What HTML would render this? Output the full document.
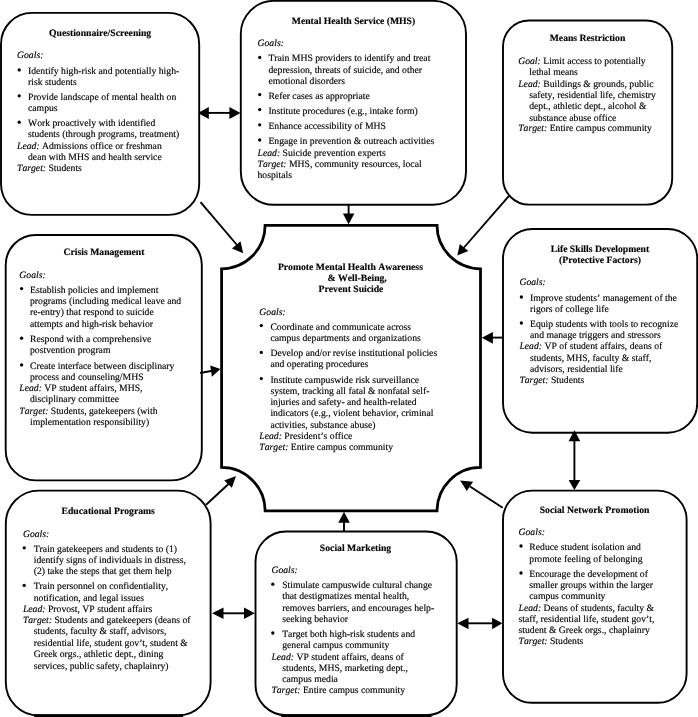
<!DOCTYPE html>
<html><head><meta charset="utf-8"><style>
html,body{margin:0;padding:0;background:#fff;width:698px;height:717px;overflow:hidden}
svg{display:block;will-change:transform}
text{font-family:"Liberation Serif",serif;font-size:9.7px;fill:#000;stroke:#000;stroke-width:0.15px;text-rendering:geometricPrecision;font-kerning:none}
</style></head><body>
<svg width="698" height="717" viewBox="0 0 698 717">
<rect x="1.0" y="12.9" width="198.20" height="202.00" rx="31" ry="31" fill="none" stroke="#000" stroke-width="1.9"/>
<rect x="240.8" y="0.9" width="225.20" height="203.90" rx="33" ry="33" fill="none" stroke="#000" stroke-width="1.9"/>
<rect x="503.0" y="20.5" width="169.20" height="184.10" rx="26" ry="26" fill="none" stroke="#000" stroke-width="1.9"/>
<rect x="5.7" y="235.0" width="196.10" height="245.40" rx="30" ry="30" fill="none" stroke="#000" stroke-width="1.9"/>
<rect x="503.0" y="229.0" width="194.20" height="203.70" rx="29.5" ry="29.5" fill="none" stroke="#000" stroke-width="1.9"/>
<rect x="5.8" y="490.6" width="204.80" height="224.90" rx="33" ry="33" fill="none" stroke="#000" stroke-width="1.9"/>
<rect x="255.5" y="531.5" width="201.20" height="183.70" rx="30.5" ry="30.5" fill="none" stroke="#000" stroke-width="1.9"/>
<rect x="503.0" y="490.6" width="183.60" height="212.20" rx="29" ry="29" fill="none" stroke="#000" stroke-width="1.9"/>
<path d="M265.1,225.3 L437.0,225.3 A43.5,43.5 0 0 0 480.5,268.8 L480.5,467.4 A43.5,43.5 0 0 0 437.0,510.9 L265.1,510.9 A43.5,43.5 0 0 0 221.6,467.4 L221.6,268.8 A43.5,43.5 0 0 0 265.1,225.3 Z" fill="none" stroke="#000" stroke-width="2.8"/>
<rect x="34" y="714.2" width="149" height="3" fill="#000"/>
<rect x="281" y="714.2" width="150.5" height="3" fill="#000"/>
<line x1="208" y1="112.9" x2="230" y2="112.9" stroke="#000" stroke-width="1.9"/>
<polygon points="197.9,112.9 208.8,107.0 208.8,118.9" fill="#000"/>
<polygon points="240.5,112.9 229.4,107.0 229.4,118.9" fill="#000"/>
<line x1="348.6" y1="204.8" x2="348.6" y2="214" stroke="#000" stroke-width="1.9"/>
<polygon points="348.6,224.2 342.9,213.4 354.4,213.4" fill="#000"/>
<line x1="200.5" y1="202.2" x2="237" y2="245" stroke="#000" stroke-width="1.9"/>
<polygon points="243.2,253.2 232,248.5 240.5,241.2" fill="#000"/>
<line x1="509" y1="195.9" x2="464" y2="247.5" stroke="#000" stroke-width="1.9"/>
<polygon points="457.3,255.4 459.8,244.1 468.3,251" fill="#000"/>
<line x1="200.2" y1="373" x2="211" y2="371" stroke="#000" stroke-width="1.9"/>
<polygon points="220.4,369 210.2,365.6 211.9,376.8" fill="#000"/>
<line x1="492" y1="337.6" x2="503" y2="337.6" stroke="#000" stroke-width="1.9"/>
<polygon points="481.8,337.8 492.9,332.0 492.9,343.7" fill="#000"/>
<line x1="206.1" y1="504.8" x2="228.5" y2="484" stroke="#000" stroke-width="1.9"/>
<polygon points="236,476.1 224.2,480.4 231.9,487.8" fill="#000"/>
<line x1="502.7" y1="507.7" x2="470" y2="486.5" stroke="#000" stroke-width="1.9"/>
<polygon points="460.1,480.6 473.1,481.8 466.8,490.9" fill="#000"/>
<line x1="344" y1="531.5" x2="344" y2="522" stroke="#000" stroke-width="1.9"/>
<polygon points="344,511.8 338.3,522.8 349.8,522.8" fill="#000"/>
<line x1="223" y1="613.3" x2="244.5" y2="613.3" stroke="#000" stroke-width="1.9"/>
<polygon points="212.1,613.3 223.5,607.6 223.5,619" fill="#000"/>
<polygon points="254.8,613.3 244,607.6 244,619" fill="#000"/>
<line x1="468" y1="623.3" x2="492.5" y2="623.3" stroke="#000" stroke-width="1.9"/>
<polygon points="457.3,623.3 468.5,617.8 468.5,629.2" fill="#000"/>
<polygon points="502.4,623.3 492.1,617.8 492.1,629.2" fill="#000"/>
<line x1="574.4" y1="441" x2="574.4" y2="480" stroke="#000" stroke-width="1.9"/>
<polygon points="574.4,430.2 568.6,441.2 580.3,441.2" fill="#000"/>
<polygon points="574.4,489.9 568.6,479.9 580.3,479.9" fill="#000"/>
<text x="100.1" y="36.0" text-anchor="middle" font-weight="bold">Questionnaire/Screening</text>
<text x="17.0" y="57.5"><tspan font-style="italic">Goals:</tspan></text>
<circle cx="19.2" cy="69.89999999999999" r="1.65" fill="#000"/>
<text x="28.0" y="73.8">Identify high-risk and potentially high-</text>
<text x="28.0" y="85.0">risk students</text>
<circle cx="19.2" cy="95.8" r="1.65" fill="#000"/>
<text x="28.0" y="99.7">Provide landscape of mental health on</text>
<text x="28.0" y="110.7">campus</text>
<circle cx="19.2" cy="122.19999999999999" r="1.65" fill="#000"/>
<text x="28.0" y="126.1">Work proactively with identified</text>
<text x="28.0" y="136.8">students (through programs, treatment)</text>
<text x="17.0" y="148.5"><tspan font-style="italic">Lead:</tspan> Admissions office or freshman</text>
<text x="28.0" y="159.6">dean with MHS and health service</text>
<text x="17.0" y="170.8"><tspan font-style="italic">Target:</tspan> Students</text>
<text x="353.5" y="23.8" text-anchor="middle" font-weight="bold">Mental Health Service (MHS)</text>
<text x="257.5" y="45.9"><tspan font-style="italic">Goals:</tspan></text>
<circle cx="259.7" cy="57.4" r="1.65" fill="#000"/>
<text x="268.4" y="61.3">Train MHS providers to identify and treat</text>
<text x="268.4" y="72.6">depression, threats of suicide, and other</text>
<text x="268.4" y="84.0">emotional disorders</text>
<circle cx="259.7" cy="94.6" r="1.65" fill="#000"/>
<text x="268.4" y="98.5">Refer cases as appropriate</text>
<circle cx="259.7" cy="109.6" r="1.65" fill="#000"/>
<text x="268.4" y="113.5">Institute procedures (e.g., intake form)</text>
<circle cx="259.7" cy="124.79999999999998" r="1.65" fill="#000"/>
<text x="268.4" y="128.7">Enhance accessibility of MHS</text>
<circle cx="259.7" cy="140.0" r="1.65" fill="#000"/>
<text x="268.4" y="143.9">Engage in prevention &amp; outreach activities</text>
<text x="257.5" y="155.7"><tspan font-style="italic">Lead:</tspan> Suicide prevention experts</text>
<text x="257.5" y="167.2"><tspan font-style="italic">Target:</tspan> MHS, community resources, local</text>
<text x="257.5" y="178.2">hospitals</text>
<text x="587.5" y="41.2" text-anchor="middle" font-weight="bold">Means Restriction</text>
<text x="518.2" y="64.0"><tspan font-style="italic">Goal:</tspan> Limit access to potentially</text>
<text x="529.2" y="74.9">lethal means</text>
<text x="518.2" y="86.6"><tspan font-style="italic">Lead:</tspan> Buildings &amp; grounds, public</text>
<text x="529.2" y="98.1">safety, residential life, chemistry</text>
<text x="529.2" y="109.2">dept., athletic dept., alcohol &amp;</text>
<text x="529.2" y="120.7">substance abuse office</text>
<text x="518.2" y="131.3"><tspan font-style="italic">Target:</tspan> Entire campus community</text>
<text x="104.0" y="254.8" text-anchor="middle" font-weight="bold">Crisis Management</text>
<text x="19.3" y="278.1"><tspan font-style="italic">Goals:</tspan></text>
<circle cx="21.6" cy="288.6" r="1.65" fill="#000"/>
<text x="30.0" y="292.5">Establish policies and implement</text>
<text x="30.0" y="303.8">programs (including medical leave and</text>
<text x="30.0" y="315.2">re-entry) that respond to suicide</text>
<text x="30.0" y="326.6">attempts and high-risk behavior</text>
<circle cx="21.6" cy="338.20000000000005" r="1.65" fill="#000"/>
<text x="30.0" y="342.1">Respond with a comprehensive</text>
<text x="30.0" y="353.2">postvention program</text>
<circle cx="21.6" cy="364.90000000000003" r="1.65" fill="#000"/>
<text x="30.0" y="368.8">Create interface between disciplinary</text>
<text x="30.0" y="379.7">process and counseling/MHS</text>
<text x="19.3" y="390.6"><tspan font-style="italic">Lead:</tspan> VP student affairs, MHS,</text>
<text x="30.0" y="401.9">disciplinary committee</text>
<text x="19.3" y="413.6"><tspan font-style="italic">Target:</tspan> Students, gatekeepers (with</text>
<text x="30.0" y="425.0">implementation responsibility)</text>
<text x="600.0" y="251.6" text-anchor="middle" font-weight="bold">Life Skills Development</text>
<text x="600.0" y="262.9" text-anchor="middle" font-weight="bold">(Protective Factors)</text>
<text x="519.4" y="284.6"><tspan font-style="italic">Goals:</tspan></text>
<circle cx="521.4" cy="297.0" r="1.65" fill="#000"/>
<text x="530.0" y="300.9">Improve students’ management of the</text>
<text x="530.0" y="311.6">rigors of college life</text>
<circle cx="521.4" cy="323.0" r="1.65" fill="#000"/>
<text x="530.0" y="326.9">Equip students with tools to recognize</text>
<text x="530.0" y="338.0">and manage triggers and stressors</text>
<text x="519.4" y="349.1"><tspan font-style="italic">Lead:</tspan> VP of student affairs, deans of</text>
<text x="530.0" y="360.9">students, MHS, faculty &amp; staff,</text>
<text x="530.0" y="371.5">advisors, residential life</text>
<text x="519.4" y="383.1"><tspan font-style="italic">Target:</tspan> Students</text>
<text x="350.4" y="269.8" text-anchor="middle" font-weight="bold">Promote Mental Health Awareness</text>
<text x="357.2" y="280.7" text-anchor="middle" font-weight="bold">&amp; Well-Being,</text>
<text x="351.0" y="291.9" text-anchor="middle" font-weight="bold">Prevent Suicide</text>
<text x="259.3" y="314.5"><tspan font-style="italic">Goals:</tspan></text>
<circle cx="261.3" cy="325.6" r="1.65" fill="#000"/>
<text x="270.4" y="329.5">Coordinate and communicate across</text>
<text x="270.4" y="341.0">campus departments and organizations</text>
<circle cx="261.3" cy="352.40000000000003" r="1.65" fill="#000"/>
<text x="270.4" y="356.3">Develop and/or revise institutional policies</text>
<text x="270.4" y="367.0">and operating procedures</text>
<circle cx="261.3" cy="378.6" r="1.65" fill="#000"/>
<text x="270.4" y="382.5">Institute campuswide risk surveillance</text>
<text x="270.4" y="394.0">system, tracking all fatal &amp; nonfatal self-</text>
<text x="270.4" y="405.1">injuries and safety- and health-related</text>
<text x="270.4" y="416.3">indicators (e.g., violent behavior, criminal</text>
<text x="270.4" y="427.7">activities, substance abuse)</text>
<text x="259.3" y="438.9"><tspan font-style="italic">Lead:</tspan> President’s office</text>
<text x="259.3" y="450.0"><tspan font-style="italic">Target:</tspan> Entire campus community</text>
<text x="108.2" y="514.2" text-anchor="middle" font-weight="bold">Educational Programs</text>
<text x="22.9" y="537.0"><tspan font-style="italic">Goals:</tspan></text>
<circle cx="24.2" cy="547.8000000000001" r="1.65" fill="#000"/>
<text x="33.7" y="551.7">Train gatekeepers and students to (1)</text>
<text x="33.7" y="562.5">identify signs of individuals in distress,</text>
<text x="33.7" y="574.1">(2) take the steps that get them help</text>
<circle cx="24.2" cy="585.4" r="1.65" fill="#000"/>
<text x="33.7" y="589.3">Train personnel on confidentiality,</text>
<text x="33.7" y="600.5">notification, and legal issues</text>
<text x="22.9" y="611.7"><tspan font-style="italic">Lead:</tspan> Provost, VP student affairs</text>
<text x="22.9" y="623.1"><tspan font-style="italic">Target:</tspan> Students and gatekeepers (deans of</text>
<text x="33.7" y="634.3">students, faculty &amp; staff, advisors,</text>
<text x="33.7" y="646.0">residential life, student gov’t, student &amp;</text>
<text x="33.7" y="657.2">Greek orgs., athletic dept., dining</text>
<text x="33.7" y="668.5">services, public safety, chaplainry)</text>
<text x="355.5" y="550.7" text-anchor="middle" font-weight="bold">Social Marketing</text>
<text x="271.4" y="573.1"><tspan font-style="italic">Goals:</tspan></text>
<circle cx="272.8" cy="584.2" r="1.65" fill="#000"/>
<text x="282.2" y="588.1">Stimulate campuswide cultural change</text>
<text x="282.2" y="599.4">that destigmatizes mental health,</text>
<text x="282.2" y="611.1">removes barriers, and encourages help-</text>
<text x="282.2" y="622.1">seeking behavior</text>
<circle cx="272.8" cy="633.0" r="1.65" fill="#000"/>
<text x="282.2" y="636.9">Target both high-risk students and</text>
<text x="282.2" y="648.4">general campus community</text>
<text x="271.4" y="659.9"><tspan font-style="italic">Lead:</tspan> VP student affairs, deans of</text>
<text x="282.2" y="670.9">students, MHS, marketing dept.,</text>
<text x="282.2" y="682.3">campus media</text>
<text x="271.4" y="693.3"><tspan font-style="italic">Target:</tspan> Entire campus community</text>
<text x="594.6" y="513.0" text-anchor="middle" font-weight="bold">Social Network Promotion</text>
<text x="518.5" y="535.0"><tspan font-style="italic">Goals:</tspan></text>
<circle cx="521.0" cy="546.0" r="1.65" fill="#000"/>
<text x="529.3" y="549.9">Reduce student isolation and</text>
<text x="529.3" y="561.5">promote feeling of belonging</text>
<circle cx="521.0" cy="573.0" r="1.65" fill="#000"/>
<text x="529.3" y="576.9">Encourage the development of</text>
<text x="529.3" y="587.7">smaller groups within the larger</text>
<text x="529.3" y="599.1">campus community</text>
<text x="518.5" y="610.8"><tspan font-style="italic">Lead:</tspan> Deans of students, faculty &amp;</text>
<text x="518.5" y="621.9">staff, residential life, student gov’t,</text>
<text x="518.5" y="633.3">student &amp; Greek orgs., chaplainry</text>
<text x="518.5" y="644.1"><tspan font-style="italic">Target:</tspan> Students</text>
</svg>
</body></html>
